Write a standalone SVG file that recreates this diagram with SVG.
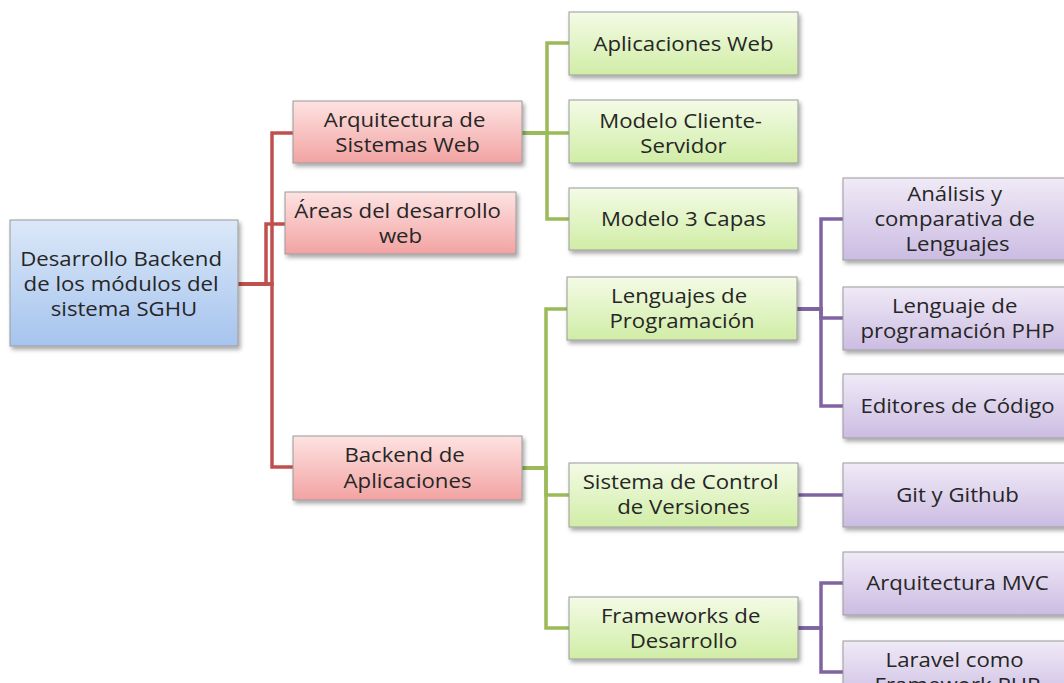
<svg xmlns="http://www.w3.org/2000/svg" width="1064" height="683" viewBox="0 0 1064 683">
  <defs>
    <linearGradient id="gBlue" x1="0" y1="0" x2="0" y2="1">
      <stop offset="0" stop-color="#dbe8f8"/>
      <stop offset="1" stop-color="#a6c4ee"/>
    </linearGradient>
    <linearGradient id="gRed" x1="0" y1="0" x2="0" y2="1">
      <stop offset="0" stop-color="#fde3e2"/>
      <stop offset="1" stop-color="#f2a3a2"/>
    </linearGradient>
    <linearGradient id="gGreen" x1="0" y1="0" x2="0" y2="1">
      <stop offset="0" stop-color="#f4fbe6"/>
      <stop offset="1" stop-color="#d0eda6"/>
    </linearGradient>
    <linearGradient id="gPurple" x1="0" y1="0" x2="0" y2="1">
      <stop offset="0" stop-color="#f0eaf7"/>
      <stop offset="1" stop-color="#cbbce2"/>
    </linearGradient>
    <filter id="shadow" x="-10%" y="-10%" width="125%" height="135%">
      <feDropShadow dx="2" dy="3" stdDeviation="2" flood-color="#000" flood-opacity="0.35"/>
    </filter>
  </defs>
  <style>
    .box { stroke: #9a9a9a; stroke-width: 1; filter: url(#shadow); }
    .blue { fill: url(#gBlue); }
    .red { fill: url(#gRed); }
    .green { fill: url(#gGreen); }
    .purple { fill: url(#gPurple); }
    .lbl { font-family: "Open Sans", "Noto Sans", sans-serif; font-size: 20px; fill: #262626; text-anchor: middle; }
    .cr { fill: none; stroke: #c0504d; stroke-width: 3.5; }
    .cg { fill: none; stroke: #9bbb59; stroke-width: 3.5; }
    .cp { fill: none; stroke: #8064a2; stroke-width: 3.5; }
  </style>
  <rect width="1064" height="683" fill="#ffffff"/>

  <!-- elbow connectors: parent right edge -> bus -> child left edge -->
  <g id="connectors">
    <path class="cr" d="M238,284 H272 V133 H293"/>
    <path class="cr" d="M238,284 H266 V224 H285"/>
    <path class="cr" d="M238,284 H272 V467 H293"/>

    <path class="cg" d="M522,133 H547 V43 H569"/>
    <path class="cg" d="M522,133 H569"/>
    <path class="cg" d="M522,133 H547 V219 H569"/>
    <path class="cg" d="M522,468 H546 V309 H567"/>
    <path class="cg" d="M522,468 H546 V495 H569"/>
    <path class="cg" d="M522,468 H546 V628 H569"/>

    <path class="cp" d="M797,309 H821 V219 H843"/>
    <path class="cp" d="M797,309 H821 V318 H843"/>
    <path class="cp" d="M797,309 H821 V406 H843"/>
    <path class="cp" d="M798,495 H843"/>
    <path class="cp" d="M798,628 H821 V583 H843"/>
    <path class="cp" d="M798,628 H821 V672 H843"/>
  </g>

  <!-- root -->
  <g id="root">
    <rect class="box blue" x="10" y="220" width="228" height="126"/>
    <text class="lbl" transform="translate(124,0) scale(1.11,1)">
      <tspan x="0" y="266">Desarrollo Backend</tspan>
      <tspan x="0" y="291">de los módulos del</tspan>
      <tspan x="0" y="316">sistema SGHU</tspan>
    </text>
  </g>

  <!-- level 1 -->
  <g id="arquitectura">
    <rect class="box red" x="293" y="101" width="229" height="62"/>
    <text class="lbl" transform="translate(407.5,0) scale(1.11,1)">
      <tspan x="0" y="127">Arquitectura de</tspan>
      <tspan x="0" y="152">Sistemas Web</tspan>
    </text>
  </g>
  <g id="areas">
    <rect class="box red" x="285" y="192" width="231" height="62"/>
    <text class="lbl" transform="translate(400.5,0) scale(1.11,1)">
      <tspan x="0" y="218">Áreas del desarrollo</tspan>
      <tspan x="0" y="243">web</tspan>
    </text>
  </g>
  <g id="backend">
    <rect class="box red" x="293" y="436" width="229" height="64"/>
    <text class="lbl" transform="translate(407.5,0) scale(1.11,1)">
      <tspan x="0" y="462">Backend de</tspan>
      <tspan x="0" y="488">Aplicaciones</tspan>
    </text>
  </g>

  <!-- level 2 -->
  <g id="aplicaciones-web">
    <rect class="box green" x="569" y="12" width="229" height="63"/>
    <text class="lbl" transform="translate(683.5,0) scale(1.11,1)">
      <tspan x="0" y="51">Aplicaciones Web</tspan>
    </text>
  </g>
  <g id="cliente-servidor">
    <rect class="box green" x="569" y="100" width="229" height="63"/>
    <text class="lbl" transform="translate(683.5,0) scale(1.11,1)">
      <tspan x="0" y="128">Modelo Cliente-</tspan>
      <tspan x="0" y="153">Servidor</tspan>
    </text>
  </g>
  <g id="tres-capas">
    <rect class="box green" x="569" y="188" width="229" height="62"/>
    <text class="lbl" transform="translate(683.5,0) scale(1.11,1)">
      <tspan x="0" y="226">Modelo 3 Capas</tspan>
    </text>
  </g>
  <g id="lenguajes">
    <rect class="box green" x="567" y="277" width="230" height="63"/>
    <text class="lbl" transform="translate(682,0) scale(1.11,1)">
      <tspan x="0" y="303">Lenguajes de</tspan>
      <tspan x="0" y="328">Programación</tspan>
    </text>
  </g>
  <g id="control-versiones">
    <rect class="box green" x="569" y="463" width="229" height="64"/>
    <text class="lbl" transform="translate(683.5,0) scale(1.11,1)">
      <tspan x="0" y="489">Sistema de Control</tspan>
      <tspan x="0" y="514">de Versiones</tspan>
    </text>
  </g>
  <g id="frameworks">
    <rect class="box green" x="569" y="597" width="229" height="62"/>
    <text class="lbl" transform="translate(683.5,0) scale(1.11,1)">
      <tspan x="0" y="623">Frameworks de</tspan>
      <tspan x="0" y="648">Desarrollo</tspan>
    </text>
  </g>

  <!-- level 3 -->
  <g id="analisis">
    <rect class="box purple" x="843" y="178" width="229" height="82"/>
    <text class="lbl" transform="translate(957.5,0) scale(1.11,1)">
      <tspan x="0" y="201">Análisis y</tspan>
      <tspan x="0" y="226">comparativa de</tspan>
      <tspan x="0" y="251">Lenguajes</tspan>
    </text>
  </g>
  <g id="php">
    <rect class="box purple" x="843" y="287" width="229" height="63"/>
    <text class="lbl" transform="translate(957.5,0) scale(1.11,1)">
      <tspan x="0" y="313">Lenguaje de</tspan>
      <tspan x="0" y="338">programación PHP</tspan>
    </text>
  </g>
  <g id="editores">
    <rect class="box purple" x="843" y="374" width="229" height="64"/>
    <text class="lbl" transform="translate(957.5,0) scale(1.11,1)">
      <tspan x="0" y="413">Editores de Código</tspan>
    </text>
  </g>
  <g id="git">
    <rect class="box purple" x="843" y="463" width="229" height="64"/>
    <text class="lbl" transform="translate(957.5,0) scale(1.11,1)">
      <tspan x="0" y="502">Git y Github</tspan>
    </text>
  </g>
  <g id="mvc">
    <rect class="box purple" x="843" y="552" width="229" height="63"/>
    <text class="lbl" transform="translate(957.5,0) scale(1.11,1)">
      <tspan x="0" y="590">Arquitectura MVC</tspan>
    </text>
  </g>
  <g id="laravel">
    <rect class="box purple" x="843" y="641" width="229" height="63"/>
    <text class="lbl" transform="translate(957.5,0) scale(1.11,1)">
      <tspan x="0" y="667">Laravel como</tspan>
      <tspan x="0" y="692">Framework PHP</tspan>
    </text>
  </g>
</svg>
